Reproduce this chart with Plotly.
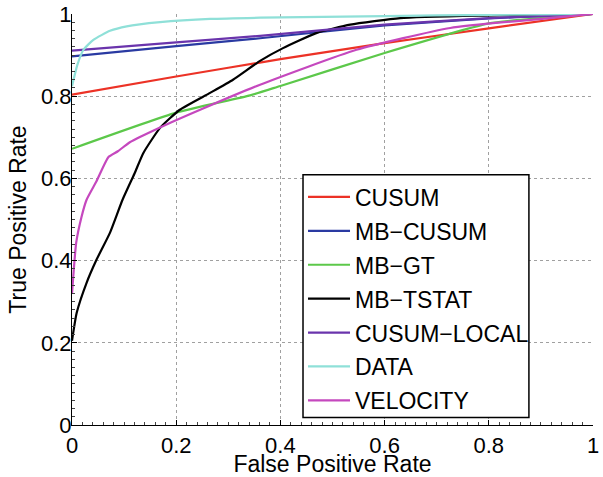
import plotly.graph_objects as go

names = ["CUSUM", "MB\u2212CUSUM", "MB\u2212GT", "MB\u2212TSTAT", "CUSUM\u2212LOCAL", "DATA", "VELOCITY"]
colors = ["#ec3226", "#2a3aa2", "#5cc84a", "#000000", "#6a34ac", "#8fe0d8", "#c548be"]

cusum_x = [0, 0.2, 0.4, 0.6, 0.8, 1]
cusum_y = [0.804, 0.848, 0.89, 0.929, 0.965, 1]

mbcusum_x = [0, 0.2, 0.361, 0.6, 0.8, 0.9, 1]
mbcusum_y = [0.897, 0.922, 0.941, 0.972, 0.989, 0.995, 1]

mbgt_x = [0, 0.2, 0.342, 0.4, 0.6, 0.8, 0.9, 1]
mbgt_y = [0.672, 0.76, 0.802, 0.825, 0.905, 0.977, 0.99, 1]

tstat_x = [0, 0.009, 0.028, 0.047, 0.073, 0.097, 0.12, 0.137, 0.169, 0.207, 0.265, 0.309, 0.361, 0.405, 0.47, 0.534, 0.63, 0.789, 1]
tstat_y = [0.205, 0.273, 0.346, 0.402, 0.468, 0.548, 0.612, 0.662, 0.723, 0.767, 0.808, 0.84, 0.886, 0.917, 0.954, 0.974, 0.99, 0.996, 1]

local_x = [0, 0.2, 0.361, 0.6, 0.8, 0.9, 1]
local_y = [0.911, 0.931, 0.947, 0.974, 0.99, 0.995, 1]

data_x = [0, 0.01, 0.022, 0.041, 0.073, 0.105, 0.169, 0.265, 0.361, 0.6, 0.8, 1]
data_y = [0.824, 0.875, 0.913, 0.937, 0.959, 0.97, 0.98, 0.988, 0.991, 0.995, 0.998, 1]

vel_x = [0, 0.008, 0.018, 0.028, 0.047, 0.07, 0.088, 0.111, 0.169, 0.246, 0.361, 0.546, 0.726, 0.917, 1]
vel_y = [0.319, 0.443, 0.505, 0.548, 0.593, 0.652, 0.666, 0.688, 0.724, 0.767, 0.828, 0.913, 0.966, 0.99, 1]

series = [(cusum_x, cusum_y), (mbcusum_x, mbcusum_y), (mbgt_x, mbgt_y), (tstat_x, tstat_y),
          (local_x, local_y), (data_x, data_y), (vel_x, vel_y)]

tick_vals = [0, 0.2, 0.4, 0.6, 0.8, 1]
tick_text = ["0", "0.2", "0.4", "0.6", "0.8", "1"]

FONT = "Liberation Sans, Arial, Helvetica, sans-serif"

fig = go.Figure()
for i, (name, col, (xs, ys)) in enumerate(zip(names, colors, series)):
    fig.add_trace(go.Scatter(x=xs, y=ys, mode="lines", name=name, legendgroup=str(i),
                             line=dict(color=col, width=2.2, shape="spline", smoothing=0.5)))

axis_common = dict(
    range=[0, 1], tickvals=tick_vals, ticktext=tick_text,
    showgrid=True, gridcolor="#a0a0a0", griddash="dot", gridwidth=1,
    showline=True, linecolor="black", linewidth=1.2,
    ticks="inside", ticklen=5, tickcolor="black",
    minor=dict(dtick=0.02, ticks="inside", ticklen=3, tickcolor="#444", showgrid=False),
    zeroline=False, automargin=False, ticklabeloverflow="allow",
    tickfont=dict(size=22, color="black", family=FONT),
)

# legend frame (drawn as a box behind the legend entries)
fig.add_shape(type="rect", xref="paper", yref="paper",
              x0=0.4434, x1=0.877, y0=0.018, y1=0.609,
              line=dict(color="black", width=1.5), fillcolor="white", layer="above")

fig.update_layout(
    width=603, height=477,
    margin=dict(l=72, r=10, t=14, b=52),
    paper_bgcolor="white", plot_bgcolor="white",
    font=dict(family=FONT, color="black"),
    xaxis=dict(title=dict(text="False Positive Rate", font=dict(size=23), standoff=16), **axis_common),
    yaxis=dict(title=dict(text="True Positive Rate", font=dict(size=23), standoff=7),
               ticklabelstandoff=-5, **axis_common),
    legend=dict(x=0.4434, y=0.607, xanchor="left", yanchor="top",
                borderwidth=0, bgcolor="rgba(0,0,0,0)", itemwidth=42,
                font=dict(size=23, color="black", family=FONT),
                traceorder="grouped", tracegroupgap=1),
    showlegend=True,
)

fig.write_html("out.html", config={"displayModeBar": False},
               post_script="document.body.style.margin='0';document.body.style.padding='0';")
